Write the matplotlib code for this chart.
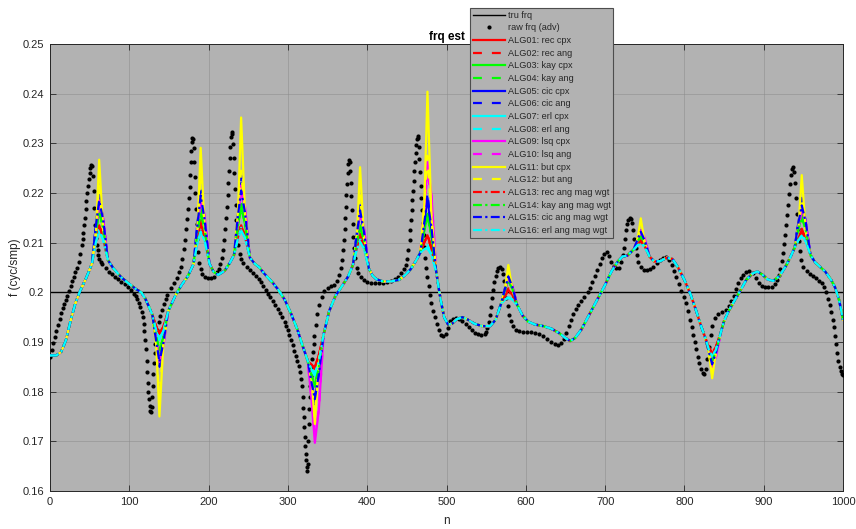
import matplotlib
matplotlib.use('Agg')
import matplotlib.pyplot as plt
from matplotlib.ticker import MultipleLocator, FuncFormatter

plt.rcParams['font.family'] = ['Liberation Sans', 'DejaVu Sans']

# true frequency (constant)
tru_n = [0, 1000]
tru_f = [0.2, 0.2]

# raw frequency estimate (black dots), (n, f)
raw_pts = [
    (0, 0.1870), (2, 0.1884), (4, 0.1897), (6, 0.1910), (8, 0.1922), (10, 0.1935), (12, 0.1947),
    (14, 0.1958), (16, 0.1968), (18, 0.1977), (20, 0.1985), (22, 0.1993), (24, 0.2002), (26, 0.2012),
    (28, 0.2022), (30, 0.2031), (32, 0.2040), (34, 0.2050), (36, 0.2062), (38, 0.2077), (40, 0.2095),
    (41, 0.2107), (42, 0.2120), (43, 0.2135), (44, 0.2150), (45, 0.2167), (46, 0.2183), (47, 0.2200),
    (48, 0.2215), (49, 0.2228), (50, 0.2240), (51, 0.2250), (52, 0.2257), (53, 0.2255), (54, 0.2235),
    (55, 0.2205), (56, 0.2170), (57, 0.2135), (58, 0.2110), (59, 0.2096), (60, 0.2085), (61, 0.2076),
    (62, 0.2068), (64, 0.2062), (66, 0.2058), (70, 0.2048), (74, 0.2041), (78, 0.2036), (82, 0.2031),
    (86, 0.2026), (90, 0.2021), (94, 0.2016), (98, 0.2011), (102, 0.2004), (106, 0.1996), (108, 0.1992),
    (110, 0.1986), (112, 0.1979), (114, 0.1970), (116, 0.1960), (117, 0.1950), (118, 0.1937),
    (119, 0.1922), (120, 0.1905), (121, 0.1885), (121.8, 0.1862), (122.5, 0.1840), (123.2, 0.1818),
    (124, 0.1800), (124.8, 0.1785), (125.6, 0.1772), (126.4, 0.1762), (127.2, 0.1760), (128, 0.1770),
    (128.8, 0.1790), (129.6, 0.1812), (130.4, 0.1835), (131.2, 0.1857), (132, 0.1878), (133, 0.1895),
    (134, 0.1910), (135.5, 0.1925), (137, 0.1940), (139, 0.1952), (141, 0.1965), (144, 0.1977),
    (146, 0.1986), (148, 0.1995), (152, 0.2008), (156, 0.2018), (160, 0.2028), (163, 0.2040),
    (165, 0.2052), (167, 0.2068), (169, 0.2088), (170.5, 0.2105), (172, 0.2128), (173, 0.2148),
    (174, 0.2168), (175, 0.2190), (176, 0.2212), (177, 0.2237), (177.8, 0.2262), (178.4, 0.2285),
    (179, 0.2302), (179.6, 0.2311), (180.3, 0.2308), (181, 0.2290), (181.8, 0.2262), (182.6, 0.2232),
    (183.4, 0.2200), (184.2, 0.2168), (185, 0.2138), (186, 0.2108), (187, 0.2082), (188.5, 0.2060),
    (190, 0.2046), (192, 0.2036), (195, 0.2031), (199, 0.2029), (203, 0.2029), (207, 0.2031),
    (211, 0.2040), (213, 0.2046), (215, 0.2058), (216.5, 0.2070), (218, 0.2085), (219.5, 0.2105),
    (221, 0.2128), (222, 0.2150), (223, 0.2172), (224, 0.2195), (225, 0.2220), (226, 0.2245),
    (226.8, 0.2270), (227.5, 0.2293), (228.2, 0.2312), (229, 0.2323), (229.8, 0.2318), (230.6, 0.2298),
    (231.4, 0.2270), (232.2, 0.2240), (233, 0.2208), (234, 0.2175), (235, 0.2145), (236, 0.2118),
    (237.5, 0.2095), (239, 0.2078), (241, 0.2068), (244, 0.2060), (248, 0.2052), (252, 0.2045),
    (256, 0.2038), (260, 0.2033), (263, 0.2027), (266, 0.2020), (269, 0.2012), (272, 0.2005),
    (275, 0.1997), (278, 0.1990), (281, 0.1983), (284, 0.1975), (287, 0.1967), (290, 0.1959),
    (293, 0.1950), (296, 0.1940), (298, 0.1932), (300, 0.1925), (302, 0.1915), (304, 0.1905),
    (306, 0.1893), (308, 0.1882), (310, 0.1872), (312, 0.1862), (314, 0.1852), (315.5, 0.1840),
    (317, 0.1826), (318, 0.1812), (319, 0.1790), (319.6, 0.1768), (320.2, 0.1748), (320.8, 0.1728),
    (321.4, 0.1708), (322, 0.1690), (322.6, 0.1675), (323.2, 0.1662), (323.8, 0.1648), (324.4, 0.1640),
    (325, 0.1655), (325.6, 0.1700), (326.2, 0.1735), (326.8, 0.1765), (327.4, 0.1790), (328, 0.1812),
    (328.8, 0.1832), (329.6, 0.1850), (330.5, 0.1865), (331.5, 0.1880), (332.5, 0.1895), (333.5, 0.1912),
    (335, 0.1935), (337, 0.1957), (339.5, 0.1975), (342.5, 0.1990), (346, 0.2003), (350, 0.2008),
    (354, 0.2012), (358, 0.2015), (362, 0.2022), (364.5, 0.2035), (366.5, 0.2050), (368, 0.2065),
    (369.5, 0.2085), (370.5, 0.2105), (371.5, 0.2128), (372.3, 0.2150), (373, 0.2172), (373.8, 0.2195),
    (374.6, 0.2218), (375.4, 0.2240), (376.2, 0.2258), (377, 0.2266), (377.8, 0.2262), (378.6, 0.2245),
    (379.4, 0.2220), (380.2, 0.2193), (381, 0.2165), (381.8, 0.2138), (382.6, 0.2112), (383.6, 0.2090),
    (385, 0.2070), (387, 0.2050), (389, 0.2038), (392, 0.2030), (396, 0.2024), (400, 0.2021),
    (405, 0.2019), (410, 0.2018), (415, 0.2018), (420, 0.2019), (425, 0.2021), (430, 0.2023),
    (435, 0.2026), (439, 0.2030), (443, 0.2038), (446, 0.2046), (448.5, 0.2055), (450.5, 0.2068),
    (452, 0.2085), (453.5, 0.2105), (454.5, 0.2125), (455.5, 0.2145), (456.3, 0.2165), (457.1, 0.2185),
    (457.9, 0.2205), (458.7, 0.2225), (459.5, 0.2245), (460.3, 0.2262), (461.1, 0.2280), (461.9, 0.2296),
    (462.7, 0.2308), (463.5, 0.2315), (464.3, 0.2310), (465.1, 0.2292), (465.9, 0.2268), (466.7, 0.2242),
    (467.5, 0.2215), (468.3, 0.2190), (469.1, 0.2165), (470, 0.2140), (471, 0.2115), (472, 0.2092),
    (473.2, 0.2070), (474.5, 0.2050), (476, 0.2030), (477.5, 0.2012), (479, 0.1995), (481, 0.1978),
    (483, 0.1962), (485, 0.1950), (487.5, 0.1937), (490, 0.1925), (493, 0.1915), (496, 0.1912),
    (499, 0.1916), (502, 0.1928), (505, 0.1942), (508, 0.1947), (512, 0.1948), (516, 0.1947),
    (520, 0.1942), (524, 0.1936), (528, 0.1930), (532, 0.1924), (536, 0.1919), (540, 0.1916),
    (544, 0.1914), (548, 0.1916), (550, 0.1920), (551.5, 0.1928), (553, 0.1940), (554.5, 0.1955),
    (556, 0.1970), (557.5, 0.1988), (559, 0.2005), (560.5, 0.2020), (562, 0.2032), (563.5, 0.2042),
    (565.5, 0.2050), (567.5, 0.2052), (569.5, 0.2047), (571, 0.2037), (572.5, 0.2022), (574, 0.2005),
    (575.5, 0.1988), (577, 0.1972), (579, 0.1955), (581, 0.1942), (584, 0.1932), (588, 0.1925),
    (592, 0.1922), (597, 0.1921), (602, 0.1921), (607, 0.1920), (612, 0.1919), (617, 0.1917),
    (622, 0.1912), (627, 0.1906), (632, 0.1900), (637, 0.1895), (641, 0.1893), (645, 0.1897),
    (648, 0.1906), (651, 0.1918), (654, 0.1932), (657, 0.1945), (660, 0.1957), (663, 0.1967),
    (666, 0.1975), (670, 0.1983), (674, 0.1991), (678, 0.2000), (681, 0.2009), (684, 0.2020),
    (687, 0.2032), (690, 0.2045), (693, 0.2058), (696, 0.2070), (699, 0.2078), (702, 0.2082),
    (705, 0.2074), (708, 0.2062), (711, 0.2053), (714, 0.2048), (717, 0.2050), (720, 0.2062),
    (722, 0.2075), (723.5, 0.2090), (725, 0.2108), (726.5, 0.2125), (728, 0.2138), (729.5, 0.2146),
    (731, 0.2149), (732.5, 0.2148), (734, 0.2140), (735.5, 0.2125), (737, 0.2108), (738.5, 0.2090),
    (740, 0.2075), (742, 0.2062), (745, 0.2052), (749, 0.2045), (753, 0.2044), (757, 0.2046),
    (761, 0.2052), (765, 0.2060), (769, 0.2066), (773, 0.2070), (777, 0.2072), (781, 0.2065),
    (784, 0.2055), (787, 0.2043), (790, 0.2030), (793, 0.2016), (796, 0.2002), (799, 0.1990),
    (802, 0.1978), (804.5, 0.1963), (807, 0.1945), (809, 0.1930), (811, 0.1915), (813, 0.1900),
    (815, 0.1885), (817, 0.1870), (819, 0.1857), (821, 0.1845), (823, 0.1838), (825, 0.1835),
    (827, 0.1845), (829, 0.1865), (831, 0.1890), (833, 0.1915), (835, 0.1933), (838, 0.1948),
    (842, 0.1956), (847, 0.1960), (852, 0.1965), (856, 0.1973), (859, 0.1982), (862, 0.1993),
    (865, 0.2006), (868, 0.2018), (871, 0.2028), (874, 0.2035), (878, 0.2040), (882, 0.2043),
    (886, 0.2038), (890, 0.2028), (894, 0.2019), (898, 0.2013), (902, 0.2011), (906, 0.2010),
    (910, 0.2011), (914, 0.2016), (917, 0.2025), (919, 0.2035), (921, 0.2047), (923, 0.2063),
    (924.5, 0.2080), (926, 0.2097), (927.3, 0.2115), (928.6, 0.2135), (929.8, 0.2155), (931, 0.2175),
    (932.2, 0.2197), (933.4, 0.2218), (934.6, 0.2236), (935.8, 0.2248), (937, 0.2252), (938.2, 0.2242),
    (939.4, 0.2220), (940.6, 0.2190), (941.8, 0.2158), (943, 0.2128), (944.2, 0.2103), (945.6, 0.2083),
    (947.5, 0.2066), (950, 0.2052), (954, 0.2042), (958, 0.2036), (962, 0.2032), (966, 0.2028),
    (970, 0.2023), (973, 0.2018), (976, 0.2010), (978.5, 0.2000), (981, 0.1987), (983, 0.1975),
    (985, 0.1960), (986.8, 0.1945), (988.4, 0.1930), (990, 0.1912), (991.4, 0.1895), (992.8, 0.1878),
    (994.2, 0.1862), (995.6, 0.1850), (997, 0.1841), (998.5, 0.1836), (1000, 0.1834),
]

# common shape of the estimator outputs away from the peaks/dips
alg_base = [
    (0, 0.1873), (8, 0.1873), (14, 0.1880), (20, 0.1903), (26, 0.1943), (32, 0.1978), (38, 0.2003),
    (44, 0.2023), (48, 0.2038), (53, 0.2058), (73, 0.2065), (80, 0.2048), (90, 0.2030), (100, 0.2017),
    (108, 0.2007), (115, 0.2000), (120, 0.1988), (125, 0.1970), (129, 0.1955), (149, 0.1962),
    (158, 0.1993), (166, 0.2015), (174, 0.2033), (181, 0.2057), (201, 0.2058), (206, 0.2042),
    (212, 0.2035), (220, 0.2043), (227, 0.2060), (232, 0.2075), (252, 0.2070), (258, 0.2058),
    (264, 0.2050), (270, 0.2038), (280, 0.2021), (288, 0.2005), (296, 0.1985), (304, 0.1957),
    (312, 0.1925), (318, 0.1895), (325, 0.1862), (345, 0.1915), (352, 0.1962), (360, 0.1993),
    (368, 0.2012), (376, 0.2032), (382, 0.2055), (402, 0.2048), (407, 0.2033), (412, 0.2026),
    (420, 0.2022), (430, 0.2022), (440, 0.2025), (448, 0.2035), (455, 0.2047), (462, 0.2065),
    (467, 0.2080), (487, 0.2042), (490, 0.2010), (493, 0.1982), (497, 0.1950), (502, 0.1935),
    (507, 0.1937), (513, 0.1946), (520, 0.1950), (527, 0.1945), (535, 0.1937), (545, 0.1932),
    (555, 0.1932), (562, 0.1945), (569, 0.1978), (589, 0.1975), (596, 0.1953), (603, 0.1941),
    (612, 0.1935), (622, 0.1932), (632, 0.1927), (642, 0.1918), (650, 0.1908), (656, 0.1902),
    (662, 0.1908), (670, 0.1925), (680, 0.1955), (690, 0.1985), (700, 0.2015), (708, 0.2042),
    (716, 0.2062), (722, 0.2072), (728, 0.2074), (736, 0.2086), (756, 0.2072), (762, 0.2062),
    (770, 0.2063), (778, 0.2070), (785, 0.2067), (792, 0.2050), (800, 0.2025), (808, 0.1995),
    (815, 0.1962), (821, 0.1932), (826, 0.1910), (846, 0.1920), (850, 0.1942), (855, 0.1960),
    (862, 0.1980), (870, 0.2002), (878, 0.2025), (886, 0.2038), (892, 0.2042), (898, 0.2036),
    (905, 0.2026), (912, 0.2023), (920, 0.2033), (928, 0.2053), (934, 0.2072), (939, 0.2090),
    (959, 0.2075), (965, 0.2060), (970, 0.2053), (978, 0.2041), (985, 0.2025), (990, 0.2010),
    (995, 0.1985), (1000, 0.1945),
]

# positions of the peaks / dips and each estimator's value there
ext_n = [62, 138, 190, 241, 334, 391, 476, 578, 745, 835, 948]
pre_n = [58, 134, 186, 237, 330, 387, 472, 574, 741, 831, 944]
post_n = [67, 143, 195, 246, 339, 396, 481, 583, 750, 840, 953]

alg_ext = [
    [0.2135, 0.1915, 0.2140, 0.2135, 0.1848, 0.2115, 0.2115, 0.2005, 0.2105, 0.1875, 0.2125],
    [0.2138, 0.1910, 0.2145, 0.2138, 0.1845, 0.2118, 0.2118, 0.2008, 0.2105, 0.1870, 0.2128],
    [0.2165, 0.1880, 0.2165, 0.2175, 0.1810, 0.2135, 0.2155, 0.2025, 0.2115, 0.1860, 0.2155],
    [0.2168, 0.1878, 0.2168, 0.2178, 0.1808, 0.2138, 0.2158, 0.2028, 0.2118, 0.1858, 0.2158],
    [0.2200, 0.1855, 0.2205, 0.2220, 0.1780, 0.2170, 0.2190, 0.2035, 0.2125, 0.1853, 0.2185],
    [0.2195, 0.1850, 0.2205, 0.2235, 0.1775, 0.2175, 0.2200, 0.2038, 0.2125, 0.1850, 0.2190],
    [0.2125, 0.1905, 0.2125, 0.2127, 0.1835, 0.2105, 0.2090, 0.1990, 0.2100, 0.1870, 0.2115],
    [0.2128, 0.1902, 0.2128, 0.2130, 0.1832, 0.2108, 0.2095, 0.1993, 0.2102, 0.1868, 0.2118],
    [0.2185, 0.1860, 0.2195, 0.2215, 0.1697, 0.2165, 0.2262, 0.2030, 0.2125, 0.1850, 0.2170],
    [0.2175, 0.1865, 0.2185, 0.2205, 0.1720, 0.2155, 0.2235, 0.2028, 0.2120, 0.1855, 0.2165],
    [0.2267, 0.1750, 0.2291, 0.2352, 0.1735, 0.2252, 0.2404, 0.2055, 0.2149, 0.1827, 0.2236],
    [0.2220, 0.1780, 0.2240, 0.2245, 0.1750, 0.2195, 0.2275, 0.2045, 0.2130, 0.1835, 0.2185],
    [0.2132, 0.1918, 0.2135, 0.2132, 0.1850, 0.2112, 0.2112, 0.2002, 0.2102, 0.1878, 0.2122],
    [0.2162, 0.1885, 0.2160, 0.2170, 0.1815, 0.2130, 0.2150, 0.2022, 0.2112, 0.1862, 0.2150],
    [0.2185, 0.1860, 0.2195, 0.2205, 0.1785, 0.2165, 0.2185, 0.2032, 0.2122, 0.1855, 0.2175],
    [0.2122, 0.1908, 0.2122, 0.2125, 0.1838, 0.2102, 0.2088, 0.1988, 0.2098, 0.1872, 0.2112],
]

# values just before / after each extreme, per estimator family
grp_pre = {
    'rec': [0.2104, 0.1931, 0.2107, 0.2111, 0.1854, 0.2091, 0.2101, 0.1994, 0.2097, 0.1889, 0.2111],
    'kay': [0.2122, 0.1910, 0.2122, 0.2135, 0.1831, 0.2103, 0.2125, 0.2006, 0.2103, 0.1880, 0.2129],
    'cic': [0.2136, 0.1900, 0.2138, 0.2155, 0.1817, 0.2118, 0.2141, 0.2009, 0.2107, 0.1879, 0.2142],
    'erl': [0.2102, 0.1922, 0.2101, 0.2109, 0.1844, 0.2088, 0.2087, 0.1986, 0.2095, 0.1884, 0.2106],
    'lsq': [0.2122, 0.1908, 0.2126, 0.2145, 0.1780, 0.2110, 0.2171, 0.2004, 0.2106, 0.1880, 0.2130],
    'but': [0.2121, 0.1894, 0.2127, 0.2158, 0.1824, 0.2114, 0.2177, 0.2009, 0.2108, 0.1877, 0.2134],
}
grp_post = {
    'rec': [0.2110, 0.1931, 0.2111, 0.2112, 0.1873, 0.2092, 0.2089, 0.1995, 0.2093, 0.1891, 0.2108],
    'kay': [0.2130, 0.1909, 0.2128, 0.2138, 0.1848, 0.2105, 0.2115, 0.2008, 0.2100, 0.1881, 0.2127],
    'cic': [0.2146, 0.1898, 0.2146, 0.2160, 0.1835, 0.2121, 0.2131, 0.2011, 0.2104, 0.1880, 0.2141],
    'erl': [0.2107, 0.1922, 0.2105, 0.2110, 0.1860, 0.2088, 0.2076, 0.1986, 0.2092, 0.1885, 0.2103],
    'lsq': [0.2149, 0.1891, 0.2154, 0.2172, 0.1763, 0.2130, 0.2196, 0.2014, 0.2109, 0.1871, 0.2142],
    'but': [0.2126, 0.1898, 0.2128, 0.2155, 0.1863, 0.2109, 0.2151, 0.2007, 0.2099, 0.1883, 0.2123],
}

alg_labels = ['ALG01: rec cpx', 'ALG02: rec ang', 'ALG03: kay cpx', 'ALG04: kay ang',
              'ALG05: cic cpx', 'ALG06: cic ang', 'ALG07: erl cpx', 'ALG08: erl ang',
              'ALG09: lsq cpx', 'ALG10: lsq ang', 'ALG11: but cpx', 'ALG12: but ang',
              'ALG13: rec ang mag wgt', 'ALG14: kay ang mag wgt', 'ALG15: cic ang mag wgt',
              'ALG16: erl ang mag wgt']
alg_group = ['rec', 'rec', 'kay', 'kay', 'cic', 'cic', 'erl', 'erl',
             'lsq', 'lsq', 'but', 'but', 'rec', 'kay', 'cic', 'erl']

R, G, B, C, M, Y = '#ff0000', '#00ff00', '#0000ff', '#00ffff', '#ff00ff', '#ffff00'
alg_colors = [R, R, G, G, B, B, C, C, M, M, Y, Y, R, G, B, C]
solid = '-'
dash = (0, (4, 4.5))
dashdot = (0, (4, 1.5, 1, 1.5))
alg_styles = [solid, dash] * 6 + [dashdot] * 4

fig = plt.figure(figsize=(8.56, 5.29), dpi=100)
ax = fig.add_axes([50 / 856, 38 / 529, 793 / 856, 447 / 529])
ax.set_facecolor('#b2b2b2')

ax.plot(tru_n, tru_f, color='k', lw=1.0, label='tru frq', zorder=2)
rn = [p[0] for p in raw_pts]
rf = [p[1] for p in raw_pts]
ax.plot(rn, rf, ls='none', marker='o', ms=3.0, mfc='k', mec='k', mew=0,
        label='raw frq (adv)', zorder=3)

for i in range(16):
    g = alg_group[i]
    pts = (alg_base + list(zip(ext_n, alg_ext[i])) + list(zip(pre_n, grp_pre[g]))
           + list(zip(post_n, grp_post[g])))
    pts = sorted(pts)
    xs = [p[0] for p in pts]
    ys = [p[1] for p in pts]
    ax.plot(xs, ys, color=alg_colors[i], ls=alg_styles[i], lw=1.6,
            label=alg_labels[i], zorder=4 + i)

ax.set_xlim(0, 1000)
ax.set_ylim(0.16, 0.25)
ax.xaxis.set_major_locator(MultipleLocator(100))
ax.yaxis.set_major_locator(MultipleLocator(0.01))
ax.yaxis.set_major_formatter(FuncFormatter(lambda v, p: '%g' % round(v, 3)))
ax.grid(True, color='#8c8c8c', lw=0.6, alpha=0.6)
ax.set_axisbelow(True)
ax.tick_params(direction='in', length=4, width=0.6, top=True, right=True,
               labelsize=8, colors='#262626', pad=4)
for s in ax.spines.values():
    s.set_color('#262626')
    s.set_linewidth(0.7)

ax.set_xlabel('n', fontsize=8.5, color='#262626', labelpad=6)
ax.set_ylabel('f (cyc/smp)', fontsize=8.5, color='#262626', labelpad=1)
ax.set_title('frq est', fontsize=8.5, fontweight='bold', pad=3)

leg = ax.legend(loc='upper left', bbox_to_anchor=(470 / 856, 1 - 8 / 529),
                bbox_transform=fig.transFigure, fontsize=6.6, labelspacing=0.4,
                handlelength=3.5, handletextpad=0.3, borderpad=0.3, borderaxespad=0,
                fancybox=False, framealpha=1, facecolor='#b2b2b2', edgecolor='#4d4d4d')
leg.get_frame().set_linewidth(0.8)
leg.set_zorder(30)
for t in leg.get_texts():
    t.set_color('#262626')

fig.savefig('out.png', dpi=100)
